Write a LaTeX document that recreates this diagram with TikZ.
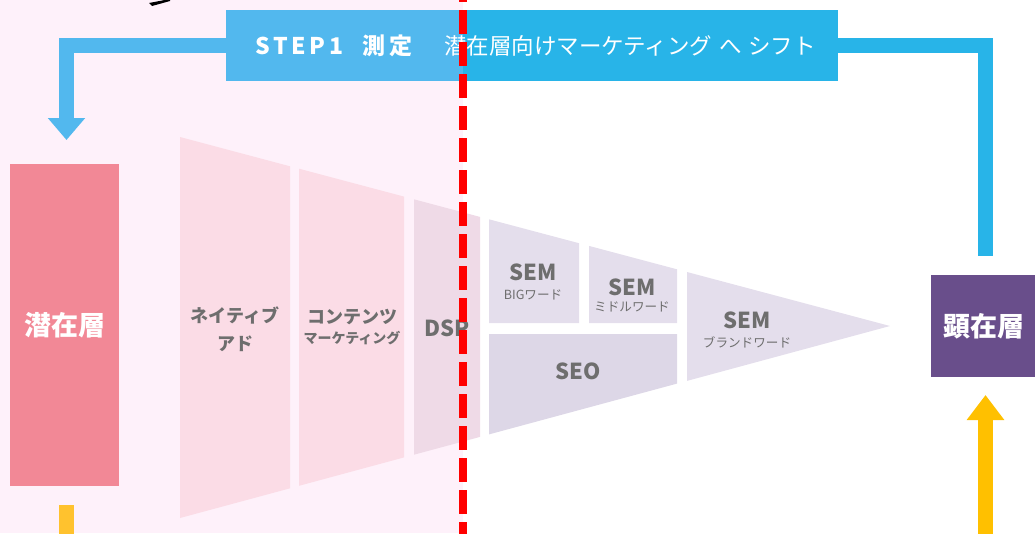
\documentclass[tikz,border=0pt]{standalone}
\usepackage{fontspec}
\setmainfont{Noto Sans CJK JP}
\usetikzlibrary{arrows.meta}
\definecolor{bgpink}{HTML}{FEF1FA}
\definecolor{senzai}{HTML}{F28896}
\definecolor{kenzai}{HTML}{694E8B}
\definecolor{segpink}{HTML}{FBDCE6}
\definecolor{segdsp}{HTML}{EFDAE7}
\definecolor{segsem}{HTML}{E4DEEC}
\definecolor{segseo}{HTML}{DDD7E7}
\definecolor{bluelight}{HTML}{52B8EE}
\definecolor{bluedark}{HTML}{28B4E8}
\definecolor{yellowlight}{HTML}{FFC22E}
\definecolor{yellowdark}{HTML}{FFC000}
\definecolor{txtgray}{HTML}{6E6E6E}
\begin{document}
\begin{tikzpicture}[x=1pt,y=-1pt,
  layerbox/.style={draw=none,inner sep=0pt,text=white,font=\bfseries\fontsize{27}{30}\selectfont},
  stepbox/.style={draw=none,inner sep=0pt,fill=bluedark},
  seglabel/.style={inner sep=0pt,text=txtgray,font=\bfseries\fontsize{18}{28}\selectfont,align=center},
  semlabel/.style={inner sep=0pt,text=txtgray,font=\bfseries\fontsize{22}{24}\selectfont},
  sublabel/.style={inner sep=0pt,text=txtgray,font=\fontsize{12.6}{14}\selectfont},
  bluebar/.style={line width=15pt},
  yellowbar/.style={line width=15pt},
]
\useasboundingbox (0,0) rectangle (1035,533);
\clip (0,0) rectangle (1035,533);
\fill[bgpink] (0,0) rectangle (463,533);
% stroke at top
\fill[black] (149,3) -- (170,-1) -- (170,1) -- (152,6) -- cycle;

% funnel segments
\fill[segpink] (180,137) -- (290,166.3) -- (290,488.3) -- (180,518) -- cycle;
\fill[segpink] (299,168.7) -- (404,196.6) -- (404,457.4) -- (299,485.8) -- cycle;
\fill[segdsp] (414,199.3) -- (480,216.9) -- (480,436.9) -- (414,454.7) -- cycle;
\fill[segsem] (489,219.3) -- (579,243.2) -- (579,323) -- (489,323) -- cycle;
\fill[segsem] (589,245.9) -- (677,269.3) -- (677,323) -- (589,323) -- cycle;
\fill[segseo] (489,334) -- (677,334) -- (677,383.6) -- (489,434.4) -- cycle;
\fill[segsem] (687,272) -- (890,326) -- (687,380.9) -- cycle;

% layer boxes
\node[layerbox,fill=senzai,minimum width=109pt,minimum height=322pt] (sen) at (64.5,325) {潜在層};
\node[layerbox,fill=kenzai,minimum width=106pt,minimum height=102pt] (ken) at (984,326) {顕在層};

% step box
\node[stepbox,minimum width=612pt,minimum height=71pt] (step) at (532,45.5) {};
\fill[bluelight] (step.north west) rectangle (463,81);
\node[inner sep=0pt,anchor=west,text=white,font=\bfseries\fontsize{23}{26}\selectfont\addfontfeature{LetterSpace=16}] (steplabel) at (255,45.5) {STEP1\hspace{0.85em}測定};
\node[inner sep=0pt,anchor=west,text=white,font=\fontsize{22.5}{26}\selectfont] (shift) at (444,45.5) {潜在層向けマーケティング\hspace{0.3em}へ\hspace{0.3em}シフト};

% connectors
\coordinate (tipL) at (66.5,140);
\coordinate (endR) at (985.5,256);
\coordinate (yLtop) at (66.5,505);
\coordinate (yLbot) at (66.5,545);
\coordinate (yRbot) at (985.5,545);
\coordinate (tipR) at (985.5,395);
\draw[bluebar,bluelight,-{Triangle[width=36pt,length=22pt]}] (step.west) -| (tipL);
\draw[bluebar,bluedark] (step.east) -| (endR);
\draw[yellowbar,yellowlight] (yLtop) -- (yLbot);
\draw[yellowbar,yellowdark,-{Triangle[width=36pt,length=25pt]}] (yRbot) -- (tipR);

% segment labels
\node[seglabel] (native) at (235,329) {ネイティブ\\アド};
\node[seglabel] (content) at (352,317) {コンテンツ};
\node[sublabel,font=\bfseries\fontsize{14}{16}\selectfont] (contentsub) at (352,338) {マーケティング};
\node[semlabel] (dsp) at (447,328) {DSP};
\node[semlabel] (sem1) at (533,272) {SEM};
\node[sublabel] (sem1sub) at (533,295) {BIGワード};
\node[semlabel] (sem2) at (632,287) {SEM};
\node[sublabel] (sem2sub) at (632,307) {ミドルワード};
\node[semlabel] (seo) at (578,371) {SEO};
\node[semlabel] (sem3) at (747,320) {SEM};
\node[sublabel] (sem3sub) at (747,342) {ブランドワード};

% red dashed divider
\coordinate (redtop) at (463,-22);
\coordinate (redbot) at (463,545);
\draw[red,line width=8pt,dash pattern=on 24pt off 8pt] (redtop) -- (redbot);
\end{tikzpicture}
\end{document}
